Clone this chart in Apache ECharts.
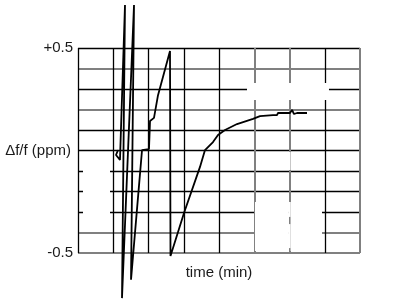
<!DOCTYPE html>
<html>
<head>
<meta charset="utf-8">
<script src="https://cdn.jsdelivr.net/npm/echarts@6/dist/echarts.min.js"></script>
<style>
html,body{margin:0;padding:0;background:#fff;}
#chart{width:415px;height:299px;}
</style>
</head>
<body>
<div id="chart"></div>
<script>
// time in grid divisions (min), frequency deviation in ppm
const timeValues = [1.135, 1.078, 1.191, 1.333, 1.248, 1.589, 1.504, 1.816, 2.014, 2.043, 2.156, 2.270, 2.610, 2.624, 2.624, 3.007, 3.461, 3.603, 3.830, 3.972, 4.170, 4.511, 4.965, 5.163, 5.532, 5.645, 5.674, 6.014, 6.071, 6.128, 6.213, 6.241, 6.496];
const dfValues   = [0.002, -0.022, -0.046, 0.710, -0.720, 0.710, -0.630, 0.002, 0.007, 0.144, 0.159, 0.270, 0.485, 0.490, -0.515, -0.305, -0.080, 0.002, 0.041, 0.076, 0.100, 0.129, 0.154, 0.168, 0.173, 0.173, 0.183, 0.183, 0.198, 0.178, 0.183, 0.178, 0.183];
const yTickLabels = { '0.5': '+0.5', '-0.5': '-0.5' };
const xMin = 0, xMax = 8, xStep = 1;
const yMin = -0.5, yMax = 0.5, yStep = 0.1;

// line colours of the printed grid (index = tick from min)
const T = 'rgba(0,0,0,0)';
const xBlack = ['#000','#000','#000','#000','#000',T,T,'#000',T];
const xGray  = [T,T,T,T,T,'#808080','#808080',T,'#808080'];
const yBlack = [T,T,'#000','#000','#000','#000','#000',T,'#000',T,'#000'];
const yGray  = ['#808080','#808080',T,T,T,T,T,'#808080',T,'#808080',T];

// blank patches of the scanned grid (data units)
const blanks = [
  [4.794, 0.329, 7.120, 0.246],
  [0.142, -0.022, 0.908, -0.378],
  [5.021, -0.251, 5.960, -0.490],
  [6.030, -0.251, 6.922, -0.490],
  [5.960, -0.251, 6.030, -0.324],
  [5.960, -0.359, 6.030, -0.476],
  [5.960, -0.007, 6.030, -0.095]
];

const data = timeValues.map((t, i) => [t, dfValues[i]]);
const font = "'Liberation Sans', Arial, sans-serif";
const txt = '#1a1a1a';

function xAx(colors, width, main) {
  return {
    type: 'value', min: xMin, max: xMax, interval: xStep,
    position: main ? 'bottom' : 'top',
    axisLine: { show: false }, axisTick: { show: false },
    axisLabel: { show: false },
    splitLine: { show: true, lineStyle: { color: colors, width: width } },
    name: main ? 'time (min)' : '',
    nameLocation: 'middle', nameGap: 12, nameMoveOverlap: false,
    nameTextStyle: { fontFamily: font, fontSize: 15, color: txt }
  };
}
function yAx(colors, width, main) {
  return {
    type: 'value', min: yMin, max: yMax, interval: yStep,
    position: main ? 'left' : 'right',
    axisLine: { show: false }, axisTick: { show: false },
    axisLabel: {
      show: main, margin: 5, fontFamily: font, fontSize: 15, color: txt,
      formatter: v => { const k = String(Math.round(v * 10) / 10); return yTickLabels[k] || ''; }
    },
    splitLine: { show: true, lineStyle: { color: colors, width: width } },
    name: main ? 'Δf/f (ppm)' : '',
    nameLocation: 'middle', nameRotate: 0, nameGap: 7, nameMoveOverlap: false,
    nameTextStyle: { fontFamily: font, fontSize: 15, color: txt }
  };
}

const chart = echarts.init(document.getElementById('chart'), null, { renderer: 'canvas' });
chart.setOption({
  animation: false,
  backgroundColor: '#fff',
  grid: { left: 78, right: 55, top: 48, bottom: 46, containLabel: false, outerBoundsMode: 'none' },
  xAxis: [xAx(xBlack, 1.3, true), xAx(xGray, 2, false)],
  yAxis: [yAx(yBlack, 1.3, true), yAx(yGray, 2, false)],
  series: [{
    type: 'line',
    xAxisIndex: 0, yAxisIndex: 0,
    data: data,
    clip: false,
    showSymbol: false,
    symbol: 'none',
    lineStyle: { color: '#000', width: 1.8 },
    markArea: {
      silent: true,
      itemStyle: { color: '#fff', borderWidth: 0 },
      label: { show: false },
      data: blanks.map(b => [{ coord: [b[0], b[1]] }, { coord: [b[2], b[3]] }])
    }
  }]
});
</script>
</body>
</html>
